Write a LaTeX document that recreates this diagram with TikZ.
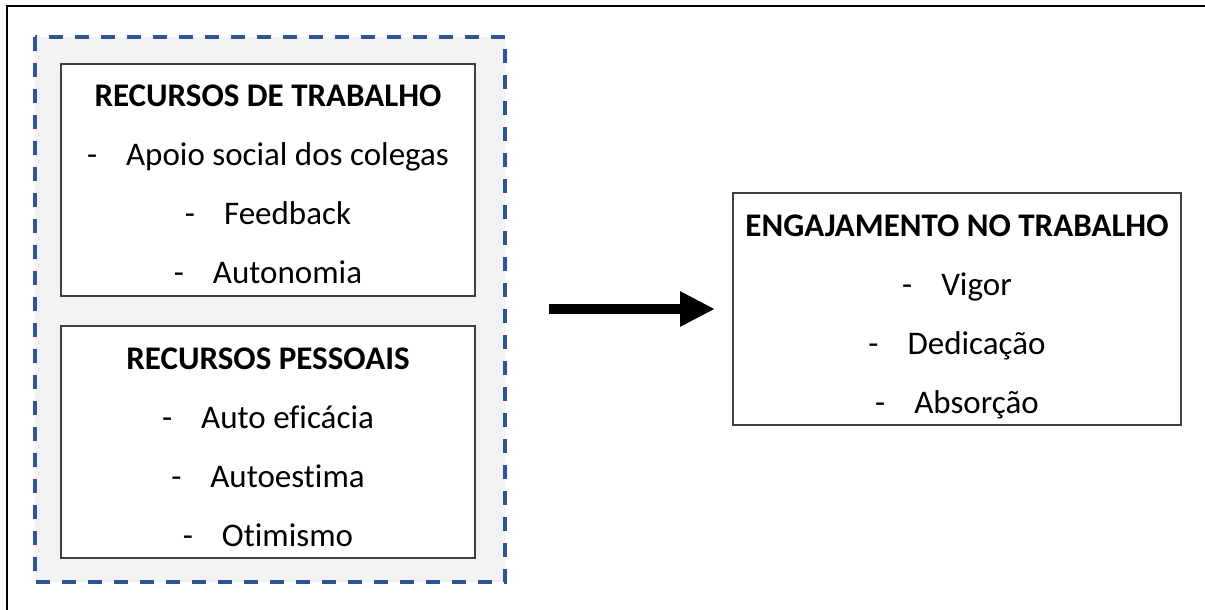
\documentclass[tikz,border=0pt]{standalone}
\usepackage{fontspec}
\setmainfont[Ligatures=NoCommon]{Carlito}
\usepackage{tikz}
\usetikzlibrary{arrows.meta}
\definecolor{dashblue}{HTML}{2F5597}
\definecolor{panelgray}{HTML}{F2F2F2}

\begin{document}
\begin{tikzpicture}[x=1pt,y=-1pt]
      \tikzset{
        group/.style={draw=dashblue, fill=panelgray, line width=3.5pt, dash pattern=on 14pt off 12pt},
        box/.style={draw=black!75, fill=white, line width=1.3pt, rectangle, minimum width=414pt, minimum height=232pt, inner sep=0pt},
        head/.style={font=\fontsize{33}{38}\selectfont\bfseries, text height=21pt, text depth=7pt, inner sep=0pt, node distance=59pt},
        item/.style={font=\fontsize{33}{38}\selectfont, text height=21pt, text depth=7pt, inner sep=0pt, node distance=59pt},
        line/.style={draw, line width=10pt, -{Triangle[length=35pt,width=33pt]}},
      }
      \useasboundingbox (0,0) rectangle (1205,610);
      \draw [line width=2pt] (6.5,610) -- (6.5,6.5) -- (1205,6.5);

      \path [group] (35,37) rectangle (505,582);
      \node [box] (job) at (268,180) {};
      \node [box] (pers) at (268,442) {};
      \node [box, minimum width=448pt] (eng) at (957,309) {};

      \node [head] (jobt) at (268,99.5) {RECURSOS DE TRABALHO};
      \node [item, below of=jobt] (job1) {-\hspace{29pt}Apoio social dos colegas};
      \node [item, below of=job1] (job2) {-\hspace{29pt}Feedback};
      \node [item, below of=job2] (job3) {-\hspace{29pt}Autonomia};

      \node [head] (perst) at (268,362.5) {RECURSOS PESSOAIS};
      \node [item, below of=perst] (pers1) {-\hspace{29pt}Auto eficácia};
      \node [item, below of=pers1] (pers2) {-\hspace{29pt}Autoestima};
      \node [item, below of=pers2] (pers3) {-\hspace{29pt}Otimismo};

      \node [head] (engt) at (957,229.5) {ENGAJAMENTO NO TRABALHO};
      \node [item, below of=engt] (eng1) {-\hspace{29pt}Vigor};
      \node [item, below of=eng1] (eng2) {-\hspace{29pt}Dedicação};
      \node [item, below of=eng2] (eng3) {-\hspace{29pt}Absorção};

      \coordinate (from) at (549,309);
      \coordinate (to) at (715,309);
      \path [line] (from)--(to);
\end{tikzpicture}
\end{document}
